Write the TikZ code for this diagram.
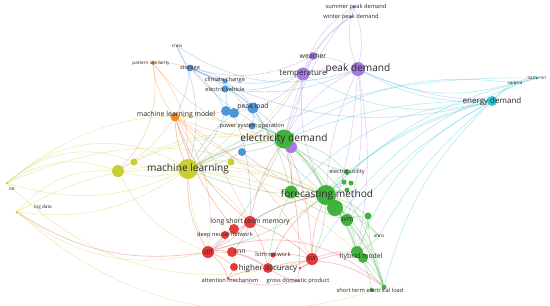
\documentclass[tikz,border=0pt]{standalone}
\usepackage{fontspec}
\setmainfont{Open Sans}
\usetikzlibrary{backgrounds}

\definecolor{kwred}{RGB}{228,58,58}
\definecolor{kwgreen}{RGB}{66,178,62}
\definecolor{kwblue}{RGB}{78,148,218}
\definecolor{kwyellow}{RGB}{200,206,52}
\definecolor{kwpurple}{RGB}{168,122,222}
\definecolor{kwcyan}{RGB}{42,198,214}
\definecolor{kworange}{RGB}{240,140,42}
\definecolor{kwtext}{RGB}{40,40,40}

\begin{document}
\begin{tikzpicture}[
    x=0.75pt, y=-0.75pt,
    kw/.style={circle, inner sep=0pt, draw=none, fill=#1},
    lbl/.style={inner sep=0pt, text=kwtext, font=\fontsize{#1}{#1}\selectfont},
    kwXL/.style={lbl=7.6},
    kwL/.style={lbl=6},
    kwM/.style={lbl=5.2},
    kwS/.style={lbl=4.3},
    kwXS/.style={lbl=3.5},
    link/.style={draw=#1, line width=0.45pt, opacity=0.35}
  ]
    \useasboundingbox (0,0) rectangle (550,305);

    % purple cluster
    \node[kw=kwpurple, minimum size=2.25pt] (summer) at (354,7) {};
    \node[kw=kwpurple, minimum size=2.25pt] (winter) at (351,17) {};
    \node[kw=kwpurple, minimum size=6pt] (weather) at (313,56) {};
    \node[kw=kwpurple, minimum size=9.75pt] (temperature) at (303,74) {};
    \node[kw=kwpurple, minimum size=10.5pt] (peakdemand) at (358,69) {};
    \node[kw=kwpurple, minimum size=9pt] (load) at (291,147) {};

    % cyan cluster
    \node[kw=kwcyan, minimum size=7.5pt] (energydemand) at (492,101) {};
    \node[kw=kwcyan, minimum size=2.25pt] (sarima) at (515,83) {};
    \node[kw=kwcyan, minimum size=2.25pt] (lstmrnn) at (537,78) {};

    % blue cluster
    \node[kw=kwblue, minimum size=1.5pt] (cnns) at (177,46) {};
    \node[kw=kwblue, minimum size=5.25pt] (storage) at (190,68) {};
    \node[kw=kwblue, minimum size=3.75pt] (climate) at (225,81) {};
    \node[kw=kwblue, minimum size=5.25pt] (ev) at (225,89) {};
    \node[kw=kwblue, minimum size=8.25pt] (peakload) at (253,108) {};
    \node[kw=kwblue, minimum size=7.5pt] (b1) at (226,111) {};
    \node[kw=kwblue, minimum size=7.5pt] (b2) at (234,113) {};
    \node[kw=kwblue, minimum size=5.25pt] (pso) at (252,126) {};
    \node[kw=kwblue, minimum size=6pt] (b3) at (242,152) {};

    % orange cluster
    \node[kw=kworange, minimum size=3pt] (patsim) at (153,63) {};
    \node[kw=kworange, minimum size=6.75pt] (mlmodel) at (175,117) {};

    % yellow cluster
    \node[kw=kwyellow, minimum size=15pt] (ml) at (188,169) {};
    \node[kw=kwyellow, minimum size=9pt] (y1) at (118,171) {};
    \node[kw=kwyellow, minimum size=5.25pt] (y2) at (134,162) {};
    \node[kw=kwyellow, minimum size=5.25pt] (y3) at (231,162) {};
    \node[kw=kwyellow, minimum size=2.25pt] (iot) at (7,183) {};
    \node[kw=kwyellow, minimum size=2.25pt] (bigdata) at (17,212) {};

    % green cluster
    \node[kw=kwgreen, minimum size=14.25pt] (elecdemand) at (284,139) {};
    \node[kw=kwgreen, minimum size=12pt] (g2) at (335,208) {};
    \node[kw=kwgreen, minimum size=9.75pt] (g3) at (291,192) {};
    \node[kw=kwgreen, minimum size=15pt] (forecast) at (326,195) {};
    \node[kw=kwgreen, minimum size=4.5pt] (elecutil) at (347,172) {};
    \node[kw=kwgreen, minimum size=3.75pt] (g4) at (344,182) {};
    \node[kw=kwgreen, minimum size=3.75pt] (g5) at (351,183) {};
    \node[kw=kwgreen, minimum size=3.75pt] (g6) at (347,190) {};
    \node[kw=kwgreen, minimum size=9pt] (svm) at (347,220) {};
    \node[kw=kwgreen, minimum size=5.25pt] (g7) at (368,216) {};
    \node[kw=kwgreen, minimum size=1.5pt] (anns) at (379,236) {};
    \node[kw=kwgreen, minimum size=9pt] (hybrid) at (357,252) {};
    \node[kw=kwgreen, minimum size=7.5pt] (g8) at (363,258) {};
    \node[kw=kwgreen, minimum size=3.75pt] (shortterm) at (384,287) {};
    \node[kw=kwgreen, minimum size=3pt] (g9) at (372,290) {};

    % red cluster
    \node[kw=kwred, minimum size=9pt] (lstm) at (250,222) {};
    \node[kw=kwred, minimum size=7.5pt] (r1) at (234,229) {};
    \node[kw=kwred, minimum size=6pt] (dnn) at (225,235) {};
    \node[kw=kwred, minimum size=9pt] (stlf) at (208,252) {};
    \node[kw=kwred, minimum size=7.5pt] (rnn) at (232,252) {};
    \node[kw=kwred, minimum size=3.75pt] (lstmnet) at (273,255) {};
    \node[kw=kwred, minimum size=9pt] (svr) at (312,259) {};
    \node[kw=kwred, minimum size=7.5pt] (higher) at (268,268) {};
    \node[kw=kwred, minimum size=6pt] (r2) at (234,267) {};
    \node[kw=kwred, minimum size=2.25pt] (r3) at (300,268) {};
    \node[kw=kwred, minimum size=2.25pt] (attn) at (228,278) {};
    \node[kw=kwred, minimum size=1.5pt] (gdp) at (298,281) {};

    % labels
    \node[kwS] (summerlbl) at (356,7) {summer peak demand};
    \node[kwS] (winterlbl) at (351,17) {winter peak demand};
    \node[kwM] (weatherlbl) at (313,56) {weather};
    \node[kwL] (temperaturelbl) at (303,74) {temperature};
    \node[kwXL] (peakdemandlbl) at (358,69) {peak demand};
    \node[kwL] (energydemandlbl) at (492,101) {energy demand};
    \node[kwXS] (sarimalbl) at (515,83) {sarima};
    \node[kwXS] (lstmrnnlbl) at (537,78) {lstm-rnn};
    \node[kwXS] (cnnslbl) at (177,46) {cnns};
    \node[kwS] (storagelbl) at (190,68) {storage};
    \node[kwS] (climatelbl) at (225,80) {climate change};
    \node[kwS] (evlbl) at (225,89) {electric vehicle};
    \node[kwM] (peakloadlbl) at (253,107) {peak load};
    \node[kwS] (psolbl) at (252,126) {power system operation};
    \node[kwXS] (patsimlbl) at (151,63) {pattern similarity};
    \node[kwM] (mlmodellbl) at (176,115) {machine learning model};
    \node[kwXL] (mllbl) at (188,169) {machine learning};
    \node[kwXS] (iotlbl) at (12,189) {iot};
    \node[kwXS] (bigdatalbl) at (43,207) {big data};
    \node[kwXL] (elecdemandlbl) at (284,139) {electricity demand};
    \node[kwXL] (forecastlbl) at (327,195) {forecasting method};
    \node[kwS] (elecutillbl) at (347,172) {electric utility};
    \node[kwM] (svmlbl) at (347,220) {svm};
    \node[kwXS] (annslbl) at (379,236) {anns};
    \node[kwM] (hybridlbl) at (361,257) {hybrid model};
    \node[kwS] (shorttermlbl) at (370,290) {short term electrical load};
    \node[kwM] (lstmlbl) at (250,222) {long short term memory};
    \node[kwS] (dnnlbl) at (225,235) {deep neural network};
    \node[kwM] (stlflbl) at (208,252) {stlf};
    \node[kwM] (rnnlbl) at (240,252) {rnn};
    \node[kwS] (lstmnetlbl) at (273,254) {lstm network};
    \node[kwM] (svrlbl) at (312,259) {svr};
    \node[kwL] (higherlbl) at (268,268) {higher accuracy};
    \node[kwS] (attnlbl) at (230,280) {attention mechanism};
    \node[kwS] (gdplbl) at (298,281) {gross domestic product};

    \begin{scope}[on background layer]
      \fill[white] (0,0) rectangle (550,305);
      % yellow links
      \foreach \a/\b/\s in {ml/iot/20, ml/bigdata/-15, ml/y1/15, ml/y2/15, ml/y3/15,
          ml/elecdemand/10, ml/forecast/10, ml/lstm/10, ml/stlf/-10, ml/mlmodel/10,
          ml/svm/10, ml/hybrid/15, ml/peakload/-10, ml/temperature/-15,
          iot/y1/25, iot/y2/30, iot/elecdemand/30, iot/forecast/25, iot/ml/35,
          bigdata/y1/25, bigdata/ml/-20, bigdata/stlf/-25, bigdata/shortterm/-30,
          y1/forecast/15, y1/elecdemand/20, y2/elecdemand/15, y3/forecast/10,
          y1/stlf/-20, iot/svr/-30, y1/mlmodel/-10}
        \draw[link=kwyellow] (\a) to[bend left=\s] (\b);
      % orange links
      \foreach \a/\b/\s in {patsim/storage/10, patsim/mlmodel/-15, patsim/ml/20,
          mlmodel/ml/-10, mlmodel/stlf/20, mlmodel/forecast/-10, mlmodel/elecdemand/-10,
          mlmodel/lstm/10, mlmodel/b1/-5, mlmodel/svr/15, patsim/elecdemand/-20,
          patsim/y1/25}
        \draw[link=kworange] (\a) to[bend left=\s] (\b);
      % blue links
      \foreach \a/\b/\s in {storage/cnns/10, storage/climate/10, storage/ev/10,
          storage/peakload/10, storage/b1/10, storage/elecdemand/-10, climate/peakload/10,
          ev/peakload/10, ev/b1/10, peakload/b1/10, peakload/elecdemand/10,
          peakload/pso/10, pso/elecdemand/10, b1/ml/10, b2/ml/-10, b3/forecast/-10,
          b3/ml/10, ev/peakdemand/-15, storage/energydemand/-20, cnns/peakdemand/-25,
          storage/temperature/-20, peakload/forecast/-10, climate/elecdemand/-10,
          b2/lstm/10, ev/temperature/-15, storage/mlmodel/10, cnns/ml/20}
        \draw[link=kwblue] (\a) to[bend left=\s] (\b);
      % purple links
      \foreach \a/\b/\s in {summer/winter/10, summer/peakdemand/15, winter/peakdemand/-15,
          summer/temperature/-20, winter/temperature/-15, winter/weather/-10,
          weather/temperature/10, weather/peakdemand/10, temperature/peakdemand/10,
          temperature/elecdemand/10, peakdemand/elecdemand/-15, peakdemand/forecast/-10,
          peakdemand/svm/10, peakdemand/hybrid/10, temperature/forecast/-15,
          peakdemand/energydemand/-10, temperature/ml/20, weather/storage/20,
          temperature/peakload/15, peakdemand/g2/5, summer/elecdemand/-10,
          load/elecdemand/10, weather/elecdemand/-5}
        \draw[link=kwpurple] (\a) to[bend left=\s] (\b);
      % cyan links
      \foreach \a/\b/\s in {energydemand/sarima/10, energydemand/lstmrnn/15,
          sarima/lstmrnn/10, energydemand/forecast/-15, energydemand/elecdemand/-10,
          energydemand/svm/-10, energydemand/hybrid/-20, energydemand/peakdemand/15,
          energydemand/anns/-10, energydemand/elecutil/-10, lstmrnn/forecast/-15,
          sarima/elecdemand/-20, energydemand/shortterm/-15, lstmrnn/svr/-20,
          energydemand/g3/-20, energydemand/temperature/20, sarima/peakdemand/20,
          lstmrnn/ml/-15}
        \draw[link=kwcyan] (\a) to[bend left=\s] (\b);
      % green links
      \foreach \a/\b/\s in {elecdemand/forecast/10, elecdemand/g3/10, elecdemand/g2/10,
          elecdemand/svm/10, elecdemand/hybrid/10, forecast/g2/10, forecast/g3/10,
          forecast/svm/10, forecast/hybrid/10, forecast/elecutil/10, forecast/g4/10,
          forecast/g5/10, forecast/g6/10, forecast/g7/10, g2/hybrid/10, g2/shortterm/10,
          svm/hybrid/10, svm/shortterm/10, hybrid/shortterm/10, hybrid/g9/10,
          g8/shortterm/-10, anns/hybrid/10, anns/forecast/-10, forecast/ml/10,
          forecast/svr/10, forecast/lstm/-10, elecdemand/stlf/10, elecdemand/ml/-10,
          forecast/stlf/10, g3/peakload/-10, elecdemand/pso/-10, elecutil/elecdemand/10,
          g7/hybrid/10, g7/shortterm/-10, forecast/shortterm/15, elecdemand/shortterm/20,
          svm/g7/10, g2/anns/10, elecdemand/b3/10, g3/higher/-10, g3/svm/-10,
          elecdemand/elecutil/15}
        \draw[link=kwgreen] (\a) to[bend left=\s] (\b);
      % red links
      \foreach \a/\b/\s in {lstm/r1/10, lstm/dnn/10, lstm/stlf/10, lstm/rnn/10,
          lstm/higher/10, lstm/svr/10, r1/dnn/10, r1/stlf/10, dnn/stlf/10, stlf/rnn/10,
          stlf/attn/15, stlf/r2/10, stlf/higher/15, rnn/higher/10, rnn/lstmnet/10,
          rnn/r2/10, r2/attn/10, svr/hybrid/10, svr/higher/10, svr/r3/10, gdp/higher/10,
          gdp/r3/10, attn/higher/10, stlf/ml/15, stlf/bigdata/20, lstm/elecdemand/10,
          svr/elecdemand/-10, r3/hybrid/10, lstm/forecast/10, svr/forecast/10,
          higher/forecast/15, lstmnet/svr/10, lstm/mlmodel/15, r1/mlmodel/10,
          attn/gdp/-15, higher/shortterm/25, stlf/shortterm/30, r3/elecdemand/-5}
        \draw[link=kwred] (\a) to[bend left=\s] (\b);
    \end{scope}
  \end{tikzpicture}
\end{document}
